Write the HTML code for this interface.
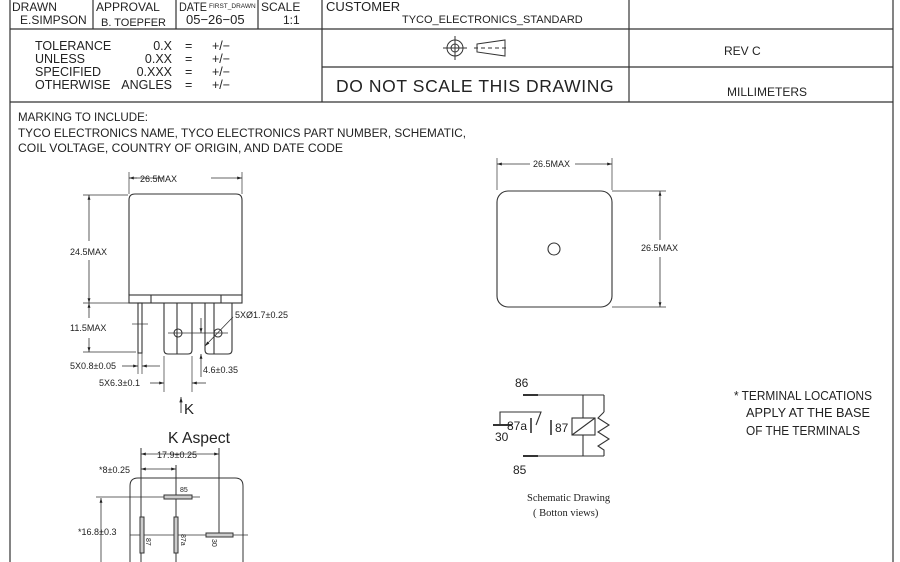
<!DOCTYPE html>
<html><head><meta charset="utf-8"><style>
html,body{margin:0;padding:0;background:#fff;}
svg{display:block;font-family:"Liberation Sans",sans-serif;}
</style></head><body>
<svg width="900" height="562" viewBox="0 0 900 562" xmlns="http://www.w3.org/2000/svg">
<defs>
<marker id="a" viewBox="0 0 10 10" refX="10" refY="5" markerWidth="8" markerHeight="6" orient="auto-start-reverse"><path d="M0,2 L10,5 L0,8 z" fill="#222"/></marker>
</defs>
<g stroke="#333" fill="none" stroke-width="1.2">
<line x1="10" y1="0" x2="10" y2="562"/>
<line x1="893" y1="0" x2="893" y2="562"/>
<line x1="10" y1="29" x2="893" y2="29"/>
<line x1="10" y1="102" x2="893" y2="102"/>
<line x1="322" y1="67" x2="893" y2="67"/>
<line x1="93" y1="0" x2="93" y2="29"/>
<line x1="176" y1="0" x2="176" y2="29"/>
<line x1="258" y1="0" x2="258" y2="29"/>
<line x1="322" y1="0" x2="322" y2="102"/>
<line x1="629" y1="0" x2="629" y2="102"/>
</g>
<g fill="#222" font-size="12">
<text x="12" y="11">DRAWN</text>
<text x="20" y="24">E.SIMPSON</text>
<text x="96" y="11">APPROVAL</text>
<text x="101" y="26" font-size="11">B. TOEPFER</text>
<text x="179" y="11" textLength="28" lengthAdjust="spacingAndGlyphs">DATE</text>
<text x="209" y="8" font-size="6.5">FIRST_DRAWN</text>
<text x="186" y="24" font-size="13">05−26−05</text>
<text x="261" y="11">SCALE</text>
<text x="283" y="24">1:1</text>
<text x="326" y="11" font-size="13">CUSTOMER</text>
<text x="402" y="23" font-size="11">TYCO_ELECTRONICS_STANDARD</text>
<g font-size="12.5">
<text x="35" y="50">TOLERANCE</text><text x="35" y="63">UNLESS</text><text x="35" y="76">SPECIFIED</text><text x="35" y="89">OTHERWISE</text>
<text x="172" y="50" text-anchor="end">0.X</text><text x="172" y="63" text-anchor="end">0.XX</text><text x="172" y="76" text-anchor="end">0.XXX</text><text x="172" y="89" text-anchor="end">ANGLES</text>
<text x="185" y="50">=</text><text x="185" y="63">=</text><text x="185" y="76">=</text><text x="185" y="89">=</text>
<text x="212" y="50">+/−</text><text x="212" y="63">+/−</text><text x="212" y="76">+/−</text><text x="212" y="89">+/−</text>
</g>
<text x="336" y="92" font-size="17.5" letter-spacing="0.6">DO NOT SCALE THIS DRAWING</text>
<text x="724" y="55" font-size="12">REV C</text>
<text x="727" y="96" font-size="12">MILLIMETERS</text>
<g font-size="12.3">
<text x="18" y="121" textLength="130" lengthAdjust="spacingAndGlyphs">MARKING TO INCLUDE:</text>
<text x="18" y="137" textLength="448" lengthAdjust="spacingAndGlyphs">TYCO ELECTRONICS NAME, TYCO ELECTRONICS PART NUMBER, SCHEMATIC,</text>
<text x="18" y="152" textLength="325" lengthAdjust="spacingAndGlyphs">COIL VOLTAGE, COUNTRY OF ORIGIN, AND DATE CODE</text>
</g>
</g>
<g stroke="#333" fill="none" stroke-width="1">
<circle cx="455" cy="48" r="8"/><circle cx="455" cy="48" r="4"/>
<line x1="443" y1="48" x2="467" y2="48"/><line x1="455" y1="36" x2="455" y2="60"/>
<path d="M477,44 L505,40 L505,56 L477,52 Z"/>
<line x1="474" y1="48" x2="509" y2="48" stroke-dasharray="4,3"/>
</g>
<g stroke="#333" fill="none" stroke-width="1.1">
<path d="M129,295 L129,200 Q129,194 135,194 L236,194 Q242,194 242,200 L242,295"/>
<rect x="129" y="295" width="113" height="8"/>
<line x1="151" y1="295" x2="151" y2="303"/><line x1="221" y1="295" x2="221" y2="303"/>
<rect x="138" y="303" width="4" height="50"/>
<path d="M164,303 L164,350 Q164,354 168,354 L188,354 Q192,354 192,350 L192,303"/>
<path d="M205,303 L205,350 Q205,354 209,354 L228,354 Q232,354 232,350 L232,303"/>
<line x1="177" y1="303" x2="177" y2="354"/><line x1="214" y1="303" x2="214" y2="354"/>
<circle cx="178" cy="333" r="4"/><circle cx="218" cy="333" r="4"/>
<line x1="168" y1="333" x2="228" y2="333" stroke-width="0.7"/>
<line x1="132" y1="324" x2="148" y2="324" stroke-width="0.7"/>
<line x1="129" y1="194" x2="129" y2="172" stroke-width="0.7"/><line x1="242" y1="194" x2="242" y2="172" stroke-width="0.7"/>
<line x1="129" y1="178" x2="137" y2="178" marker-start="url(#a)" stroke-width="0.8"/>
<line x1="129" y1="178" x2="163" y2="178" stroke-width="0.8"/>
<line x1="211" y1="178" x2="242" y2="178" marker-end="url(#a)" stroke-width="0.8"/>
<line x1="83" y1="195" x2="128" y2="195" stroke-width="0.7"/>
<line x1="83" y1="303" x2="138" y2="303" stroke-width="0.7"/>
<line x1="83" y1="352" x2="136" y2="352" stroke-width="0.7"/>
<line x1="89" y1="195" x2="89" y2="241" marker-start="url(#a)" stroke-width="0.8"/>
<line x1="89" y1="260" x2="89" y2="303" marker-end="url(#a)" stroke-width="0.8"/>
<line x1="89" y1="303" x2="89" y2="318" marker-start="url(#a)" stroke-width="0.8"/>
<line x1="89" y1="338" x2="89" y2="352" marker-end="url(#a)" stroke-width="0.8"/>
<line x1="138" y1="353" x2="138" y2="374" stroke-width="0.7"/><line x1="142" y1="353" x2="142" y2="374" stroke-width="0.7"/>
<line x1="122" y1="366" x2="138" y2="366" marker-end="url(#a)" stroke-width="0.8"/>
<line x1="160" y1="366" x2="142" y2="366" marker-end="url(#a)" stroke-width="0.8"/>
<line x1="164" y1="356" x2="164" y2="392" stroke-width="0.7"/><line x1="192" y1="356" x2="192" y2="392" stroke-width="0.7"/>
<line x1="150" y1="383" x2="164" y2="383" marker-end="url(#a)" stroke-width="0.8"/>
<line x1="206" y1="383" x2="192" y2="383" marker-end="url(#a)" stroke-width="0.8"/>
<line x1="201" y1="318" x2="201" y2="333" marker-end="url(#a)" stroke-width="0.8"/>
<line x1="201" y1="377" x2="201" y2="354" marker-end="url(#a)" stroke-width="0.8"/>
<line x1="233" y1="317" x2="205" y2="346" stroke-width="0.8" marker-end="url(#a)"/>
<line x1="181" y1="413" x2="181" y2="397" marker-end="url(#a)" stroke-width="0.9"/>
</g>
<g fill="#222" font-size="9">
<text x="140" y="182">26.5MAX</text>
<text x="70" y="255">24.5MAX</text>
<text x="70" y="331">11.5MAX</text>
<text x="70" y="369">5X0.8±0.05</text>
<text x="99" y="386">5X6.3±0.1</text>
<text x="203" y="373">4.6±0.35</text>
<text x="235" y="318">5XØ1.7±0.25</text>
<text x="184" y="414" font-size="15">K</text>
<text x="168" y="443" font-size="16" textLength="62" lengthAdjust="spacingAndGlyphs">K Aspect</text>
</g>
<g stroke="#333" fill="none" stroke-width="1">
<path d="M130,562 L130,486 Q130,478 138,478 L235,478 Q243,478 243,486 L243,562"/>
<line x1="141" y1="448" x2="141" y2="562"/>
<line x1="176" y1="465" x2="176" y2="562"/>
<line x1="219" y1="448" x2="219" y2="536"/>
<line x1="96" y1="497" x2="200" y2="497" stroke-width="0.7"/>
<line x1="130" y1="535" x2="248" y2="535" stroke-width="0.7"/>
<rect x="164" y="495" width="28" height="4" fill="#ccc"/>
<rect x="140" y="517" width="4" height="36" fill="#ccc"/>
<rect x="174" y="517" width="4" height="36" fill="#ccc"/>
<rect x="206" y="533" width="27" height="4" fill="#ccc"/>
<line x1="141" y1="454" x2="219" y2="454" marker-start="url(#a)" marker-end="url(#a)" stroke-width="0.8"/>
<line x1="141" y1="469" x2="176" y2="469" marker-start="url(#a)" marker-end="url(#a)" stroke-width="0.8"/>
<line x1="101" y1="562" x2="101" y2="498" marker-end="url(#a)" stroke-width="0.8"/>
</g>
<g fill="#222" font-size="9">
<text x="99" y="473">*8±0.25</text>
<text x="157" y="458">17.9±0.25</text>
<text x="78" y="535">*16.8±0.3</text>
<text x="180" y="492" font-size="7">85</text>
<text x="146" y="538" font-size="7" transform="rotate(90 146 538)">87</text>
<text x="181" y="534" font-size="7" transform="rotate(90 181 534)">87a</text>
<text x="212" y="539" font-size="7" transform="rotate(90 212 539)">30</text>
</g>
<g stroke="#333" fill="none" stroke-width="1.1">
<rect x="497" y="191" width="115" height="116" rx="11"/>
<circle cx="554" cy="249" r="6"/>
<line x1="497" y1="190" x2="497" y2="158" stroke-width="0.7"/><line x1="612" y1="190" x2="612" y2="158" stroke-width="0.7"/>
<line x1="497" y1="164" x2="530" y2="164" marker-start="url(#a)" stroke-width="0.8"/>
<line x1="575" y1="164" x2="612" y2="164" marker-end="url(#a)" stroke-width="0.8"/>
<line x1="612" y1="191" x2="666" y2="191" stroke-width="0.7"/><line x1="612" y1="307" x2="666" y2="307" stroke-width="0.7"/>
<line x1="660" y1="191" x2="660" y2="240" marker-start="url(#a)" stroke-width="0.8"/>
<line x1="660" y1="257" x2="660" y2="307" marker-end="url(#a)" stroke-width="0.8"/>
</g>
<g fill="#222" font-size="9">
<text x="533" y="167">26.5MAX</text>
<text x="641" y="251">26.5MAX</text>
</g>
<g stroke="#333" fill="none" stroke-width="1.1">
<line x1="523" y1="395" x2="538" y2="395" stroke-width="2"/>
<line x1="538" y1="395" x2="604" y2="395"/>
<line x1="523" y1="456" x2="538" y2="456" stroke-width="2"/>
<line x1="538" y1="456" x2="604" y2="456"/>
<line x1="583" y1="395" x2="583" y2="418"/><line x1="583" y1="435" x2="583" y2="456"/>
<rect x="572" y="418" width="23" height="17"/>
<line x1="572" y1="435" x2="595" y2="418"/>
<line x1="604" y1="395" x2="604" y2="412"/>
<polyline points="604,412 598,418 609,425 598,432 609,439 598,446 604,450 604,456"/>
<line x1="493" y1="425" x2="512" y2="425" stroke-width="2"/>
<path d="M500,425 L500,412 L541,412 L536,425"/>
<line x1="531" y1="418" x2="531" y2="433" stroke-width="1.6"/>
<line x1="551" y1="420" x2="551" y2="435" stroke-width="1.6"/>
</g>
<g fill="#222" font-size="12">
<text x="515" y="387">86</text>
<text x="507" y="430">87a</text>
<text x="555" y="432">87</text>
<text x="495" y="441">30</text>
<text x="513" y="474">85</text>
<text x="527" y="501" font-family="'Liberation Serif',serif" font-size="10.5">Schematic Drawing</text>
<text x="533" y="516" font-family="'Liberation Serif',serif" font-size="10.5">( Botton views)</text>
<g font-size="12.5">
<text x="734" y="400" textLength="138" lengthAdjust="spacingAndGlyphs">* TERMINAL LOCATIONS</text>
<text x="746" y="417" textLength="124" lengthAdjust="spacingAndGlyphs">APPLY AT THE BASE</text>
<text x="746" y="435" textLength="114" lengthAdjust="spacingAndGlyphs">OF THE TERMINALS</text>
</g>
</g>
</svg>
</body></html>
